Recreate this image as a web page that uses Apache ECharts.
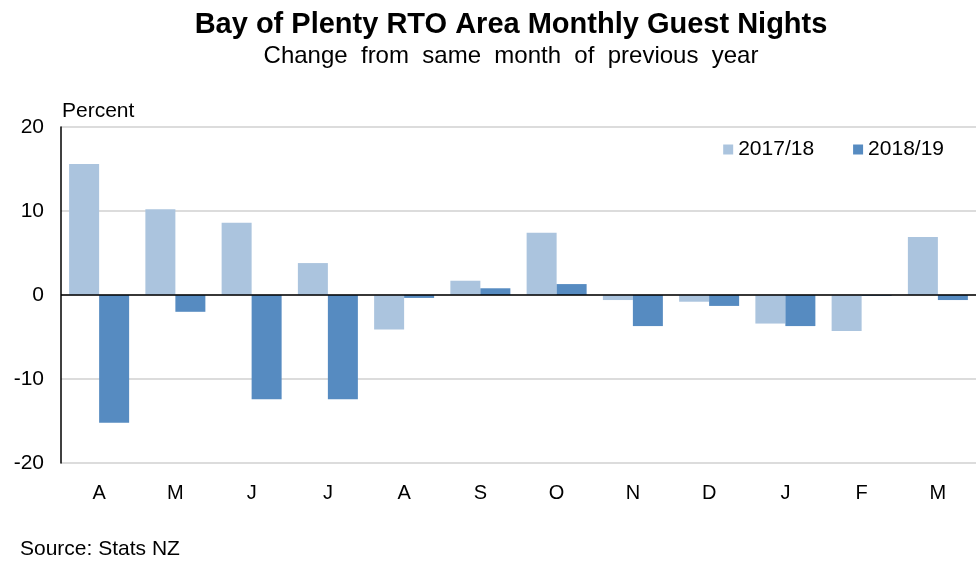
<!DOCTYPE html>
<html>
<head>
<meta charset="utf-8">
<script src="https://cdn.jsdelivr.net/npm/echarts@6/dist/echarts.min.js"></script>
<style>
  html, body { margin: 0; padding: 0; background: #fff; }
  #chart { width: 976px; height: 565px; }
</style>
</head>
<body>
<div id="chart"></div>
<script>
var months = ['A', 'M', 'J', 'J', 'A', 'S', 'O', 'N', 'D', 'J', 'F', 'M'];
var year1718 = [15.6, 10.2, 8.6, 3.8, -4.1, 1.7, 7.4, -0.6, -0.8, -3.4, -4.3, 6.9];
var year1819 = [-15.2, -2.0, -12.4, -12.4, -0.35, 0.8, 1.3, -3.7, -1.3, -3.7, -0.1, -0.6];
var yTicks = [-20, -10, 0, 10, 20];

var font = '"Liberation Sans", Arial, sans-serif';
var myChart = echarts.init(document.getElementById('chart'));

var option = {
    animation: false,
    backgroundColor: '#fff',
    textStyle: { fontFamily: font },
    title: [
        {
            text: 'Bay of Plenty RTO Area Monthly Guest Nights',
            left: 506, top: 5, textAlign: 'center',
            textStyle: { fontSize: 29, fontWeight: 'bold', color: '#000', fontFamily: font }
        },
        {
            text: 'Change  from  same  month  of  previous  year',
            left: 506, top: 39, textAlign: 'center',
            textStyle: { fontSize: 24, fontWeight: 'normal', color: '#000', fontFamily: font }
        }
    ],
    legend: {
        right: 27, top: 134,
        itemWidth: 10, itemHeight: 10, itemGap: 39,
        icon: 'rect',
        textStyle: { fontSize: 21, color: '#000', fontFamily: font },
        data: ['2017/18', '2018/19']
    },
    graphic: [
        { type: 'text', left: 62, top: 101, style: { text: 'Percent', fontSize: 21, fill: '#000', fontFamily: font } },
        { type: 'text', left: 20, top: 539, style: { text: 'Source: Stats NZ', fontSize: 21, fill: '#000', fontFamily: font } }
    ],
    grid: { left: 61, right: -21, top: 127, bottom: 102, containLabel: false },
    xAxis: {
        type: 'category',
        data: months,
        axisLine: { show: false },
        axisTick: { show: false },
        axisLabel: { interval: 0, margin: 20, fontSize: 20, color: '#000', fontFamily: font }
    },
    yAxis: {
        type: 'value',
        min: yTicks[0], max: yTicks[yTicks.length - 1], interval: 10,
        axisLine: { show: true, lineStyle: { color: '#000', width: 1.5 } },
        axisTick: { show: false },
        axisLabel: { margin: 17, fontSize: 21, color: '#000', fontFamily: font },
        splitLine: { lineStyle: { color: '#d0d0d0', width: 1.5 } }
    },
    series: [
        {
            name: '2017/18',
            type: 'bar',
            data: year1718,
            barWidth: 30,
            barGap: '0%',
            itemStyle: { color: '#abc4de' }
        },
        {
            name: '2018/19',
            type: 'bar',
            data: year1819,
            barWidth: 30,
            itemStyle: { color: '#568bc1' },
            markLine: {
                silent: true,
                symbol: 'none',
                label: { show: false },
                lineStyle: { color: '#000', width: 1.5, type: 'solid' },
                data: [{ yAxis: 0 }]
            }
        }
    ]
};

myChart.setOption(option);
</script>
</body>
</html>
